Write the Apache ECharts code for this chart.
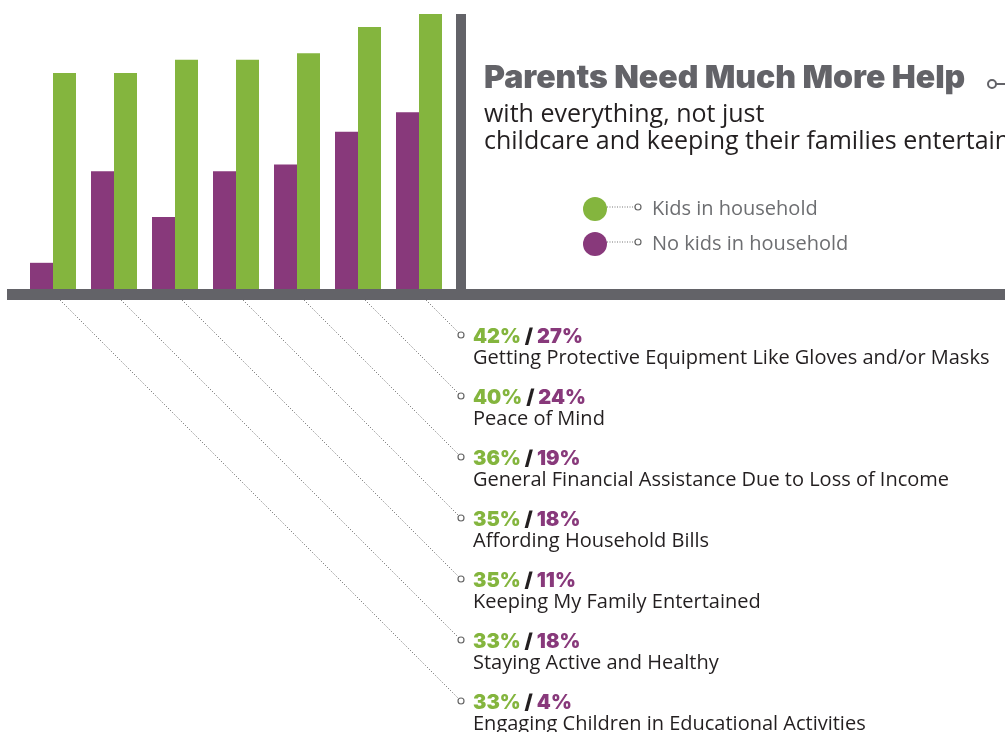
<!DOCTYPE html>
<html><head><meta charset="utf-8">
<script src="https://cdn.jsdelivr.net/npm/echarts@6/dist/echarts.min.js"></script>
<style>html,body{margin:0;padding:0;background:#fff;overflow:hidden}#c{width:1005px;height:732px}</style>
</head><body><div id="c"></div>
<script>
// ---- data ----
const categories = [
  'Engaging Children in Educational Activities',
  'Staying Active and Healthy',
  'Keeping My Family Entertained',
  'Affording Household Bills',
  'General Financial Assistance Due to Loss of Income',
  'Peace of Mind',
  'Getting Protective Equipment Like Gloves and/or Masks'
];
const kidsValues   = [33, 33, 35, 35, 36, 40, 42];
const noKidsValues = [4, 18, 11, 18, 19, 24, 27];
const seriesNames  = ['Kids in household', 'No kids in household'];
const titleText    = 'Parents Need Much More Help';
const subtitleLines = ['with everything, not just', 'childcare and keeping their families entertained'];

// ---- styles ----
const GREEN = '#84b53e', PURPLE = '#88397b', GRAY = '#636368', INK = '#231f20', LEG = '#6d6e71';
const HEAVY = 'Inter', BODY = 'Open Sans';

const chart = echarts.init(document.getElementById('c'), null, {renderer: 'canvas'});
chart.setOption({
  animation: false,
  grid: {left: 22.5, width: 427, top: 14, height: 275},
  xAxis: {type: 'category', data: categories, show: false},
  yAxis: {type: 'value', min: 0, max: 42, show: false},
  legend: {
    data: [seriesNames[0], seriesNames[1]],
    orient: 'vertical', left: 578, top: 192,
    icon: 'circle', itemWidth: 24, itemHeight: 24, itemGap: 11,
    selectedMode: false,
    textStyle: {color: LEG, fontSize: 20, fontFamily: BODY, padding: [0, 0, 0, 40]}
  },
  series: [
    {name: seriesNames[1], type: 'bar', data: noKidsValues, barWidth: 23, barGap: '0%', itemStyle: {color: PURPLE}},
    {name: seriesNames[0], type: 'bar', data: kidsValues, barWidth: 23, barGap: '0%', itemStyle: {color: GREEN}}
  ]
});

const g = [];
g.push({type: 'rect', shape: {x: 456, y: 14, width: 10, height: 276}, style: {fill: GRAY}, z: 10});
g.push({type: 'rect', shape: {x: 7, y: 289, width: 998, height: 11}, style: {fill: GRAY}, z: 10});
g.push({type: 'text', x: 484, y: 78, style: {text: titleText, fill: GRAY, fontFamily: HEAVY, fontWeight: 900, fontSize: 32, verticalAlign: 'middle'}, z: 10});
g.push({type: 'circle', shape: {cx: 992, cy: 84, r: 4}, style: {fill: '#fff', stroke: GRAY, lineWidth: 2}, z: 10});
g.push({type: 'line', shape: {x1: 996, y1: 84, x2: 1005, y2: 84}, style: {stroke: GRAY, lineWidth: 2}, z: 10});
subtitleLines.forEach((t, i) => {
  g.push({type: 'text', x: 484, y: 115 + i * 27, style: {text: t, fill: INK, fontFamily: BODY, fontSize: 25, verticalAlign: 'middle'}, z: 10});
});
[207, 242].forEach(cy => {
  g.push({type: 'line', shape: {x1: 607, y1: cy, x2: 635, y2: cy}, style: {stroke: '#777', lineWidth: 1, lineDash: [1, 1.5]}, z: 10});
  g.push({type: 'circle', shape: {cx: 638, cy: cy, r: 3}, style: {fill: '#fff', stroke: '#666', lineWidth: 1.2}, z: 10});
});
categories.forEach((name, i) => {
  const k = categories.length - 1 - i;
  const cx = chart.convertToPixel({xAxisIndex: 0, yAxisIndex: 0}, [i, 0])[0];
  const cy = 335 + 61 * k;
  const sx = cx + 7, sy = 300;
  const ex = 461 - 3 * Math.SQRT1_2, ey = cy - 3 * Math.SQRT1_2;
  g.push({type: 'line', shape: {x1: sx, y1: sy, x2: ex, y2: ey}, style: {stroke: '#5a5a5a', lineWidth: 1, lineDash: [1, 2]}, z: 5});
  g.push({type: 'circle', shape: {cx: 461, cy: cy, r: 3}, style: {fill: '#fff', stroke: '#666', lineWidth: 1.2}, z: 10});
  g.push({type: 'text', x: 473, y: 337 + 61 * k, style: {
    text: '{g|' + kidsValues[i] + '%}{s| / }{p|' + noKidsValues[i] + '%}',
    verticalAlign: 'middle',
    rich: {
      g: {fill: GREEN, fontFamily: HEAVY, fontWeight: 900, fontSize: 20},
      s: {fill: INK, fontFamily: HEAVY, fontWeight: 900, fontSize: 20},
      p: {fill: PURPLE, fontFamily: HEAVY, fontWeight: 900, fontSize: 20}
    }
  }, z: 10});
  g.push({type: 'text', x: 473, y: 358 + 61 * k, style: {text: name, fill: INK, fontFamily: BODY, fontSize: 20, verticalAlign: 'middle'}, z: 10});
});
chart.setOption({graphic: g});
</script>
</body></html>
